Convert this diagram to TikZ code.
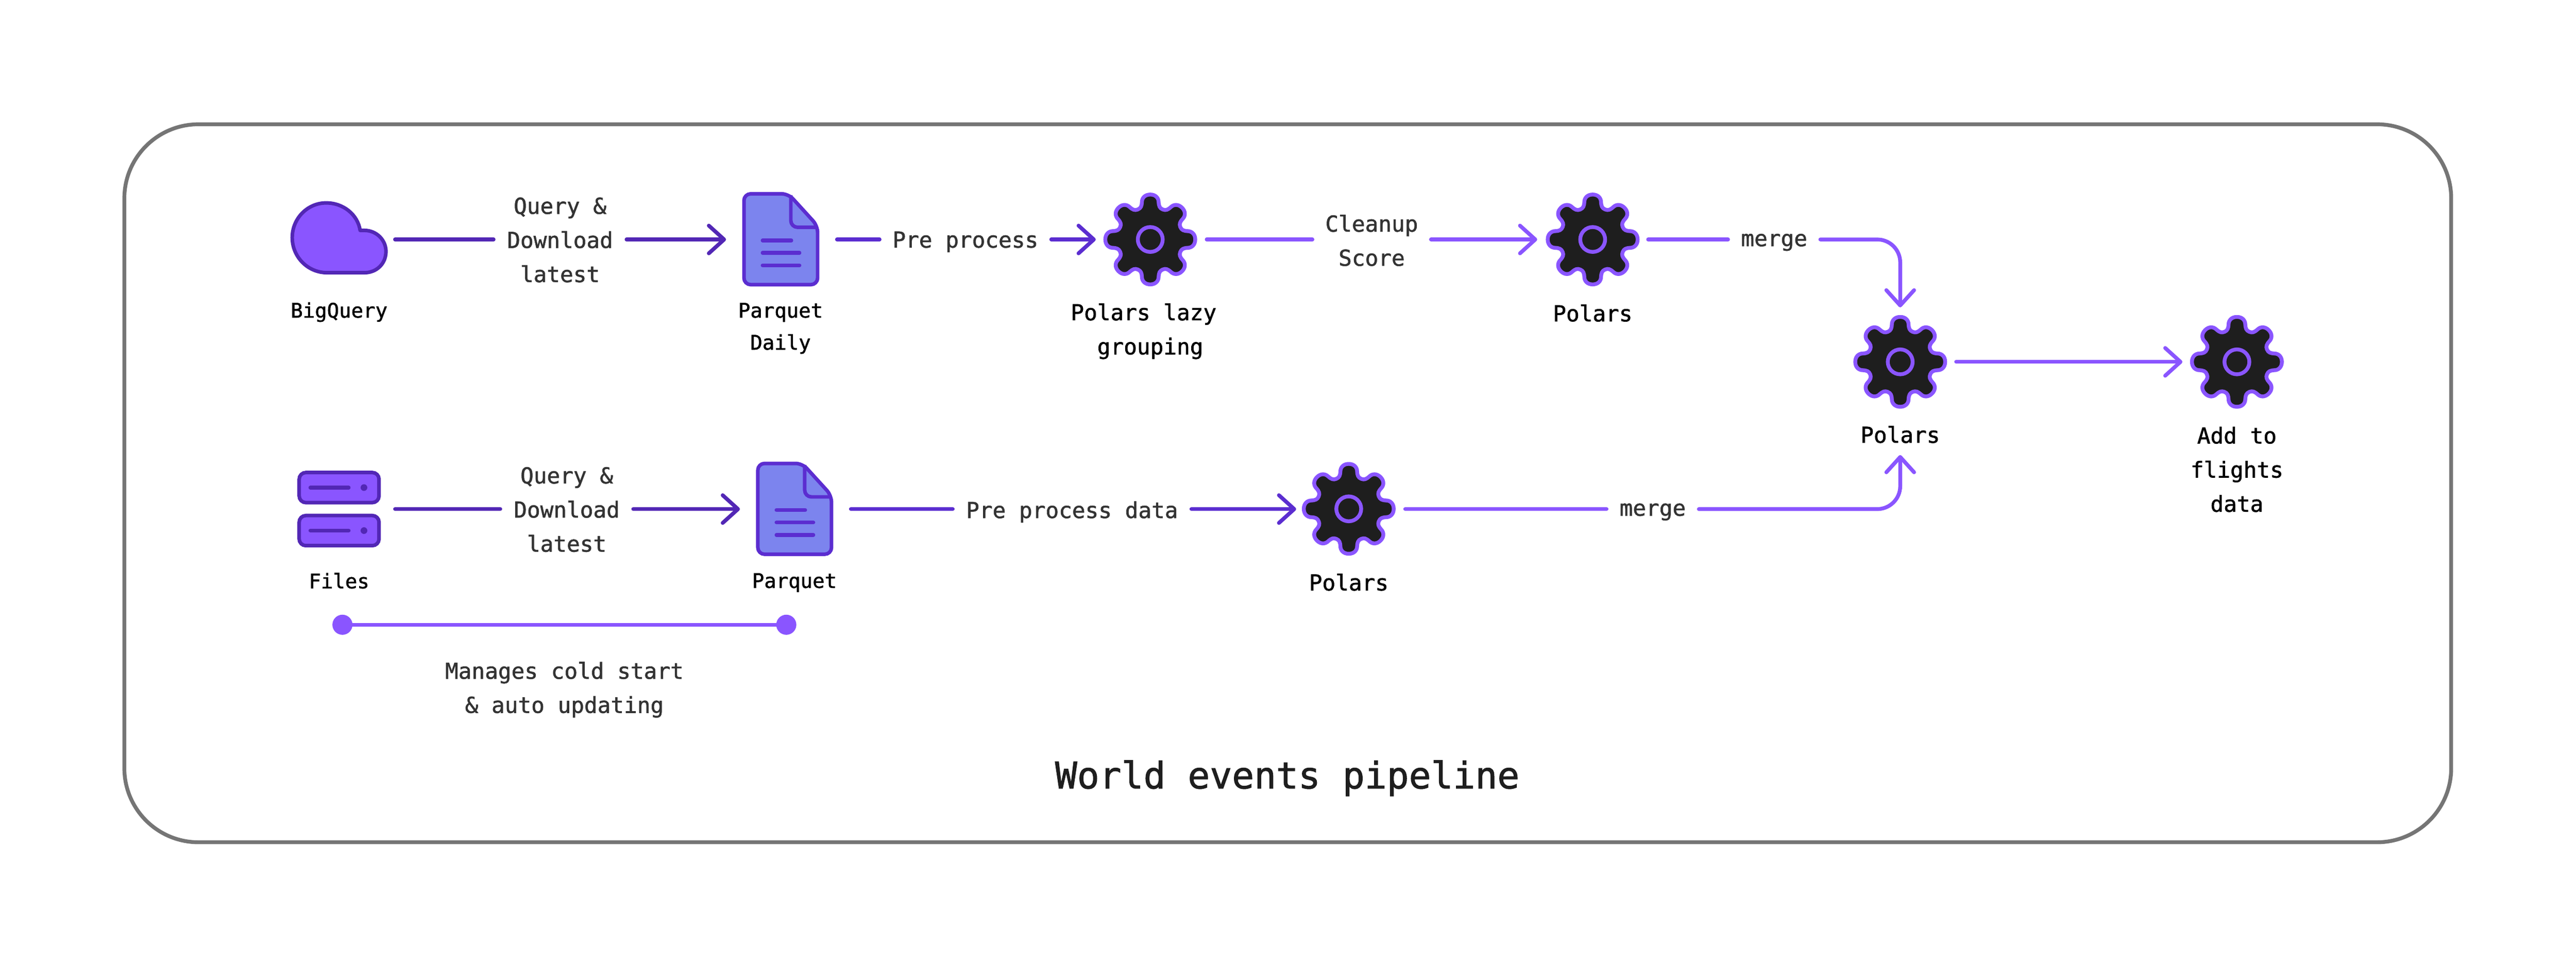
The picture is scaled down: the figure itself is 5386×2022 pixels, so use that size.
\documentclass[tikz,border=0pt]{standalone}
\usepackage{fontspec}
\setmainfont{DejaVu Sans Mono}[FakeBold=1.4]
\usetikzlibrary{arrows.meta}
\definecolor{purp}{HTML}{8A55FF}
\definecolor{deep}{HTML}{5227B5}
\definecolor{mid}{HTML}{5B2DD0}
\definecolor{filefill}{HTML}{7C84EE}
\definecolor{gearfill}{HTML}{1E1E1E}
\definecolor{framec}{HTML}{757575}
\definecolor{edgetext}{HTML}{333333}
\tikzset{
  flow/.style={line width=4pt,line cap=round,shorten <=2pt,shorten >=2pt},
  tipped/.style={shorten >=0pt,-{Straight Barb[round,length=16pt,width=29pt]}},
  hit/.style={inner sep=0pt,outer sep=0pt,minimum width=#1*0.5pt,minimum height=20pt},
  edgelabel/.style={inner sep=0pt,outer sep=0pt,minimum width=#1*0.5pt,align=center,text=edgetext,
    font=\fontsize{23}{35.7}\selectfont},
  biglabel/.style={inner sep=0pt,outer sep=0pt,align=center,text=black,
    font=\fontsize{23}{35.7}\selectfont},
  smalllabel/.style={inner sep=0pt,outer sep=0pt,align=center,text=black,
    font=\fontsize{21}{33.5}\selectfont},
  dot/.style={circle,fill=purp,inner sep=0pt,outer sep=0pt,minimum size=21pt},
  gearicon/.pic={
    \draw[fill=gearfill,draw=purp,line width=4pt,line join=round] (62.8,-26)
      \foreach \a in {0,-45,...,-315}{
        .. controls ([rotate=\a]65.5,-19.5) and ([rotate=\a]70,-18) .. ([rotate=\a]78,-17.5)
        .. controls ([rotate=\a]87,-17.5) and ([rotate=\a]94,-11) .. ([rotate=\a]94,0)
        .. controls ([rotate=\a]94,11) and ([rotate=\a]87,17.5) .. ([rotate=\a]78,17.5)
        .. controls ([rotate=\a]70,18) and ([rotate=\a]65.5,19.5) .. ([rotate=\a]62.8,26)
      } -- cycle;
    \draw[draw=purp,line width=4pt] (0,0) circle[radius=13pt];
  },
  fileicon/.pic={
    \draw[fill=filefill,draw=mid,line width=3.75pt,line join=round,rounded corners=7pt]
      (-77,-95) -- (16,-95) -- (77,-28) -- (77,95) -- (-77,95) -- cycle;
    \draw[draw=mid,line width=3.75pt,line join=round,rounded corners=7pt]
      (21,-92) -- (21,-25) -- (77,-25);
    \draw[draw=mid,line width=4pt,line cap=round] (-38,2.5) -- (22,2.5);
    \draw[draw=mid,line width=4pt,line cap=round] (-38,28.5) -- (39,28.5);
    \draw[draw=mid,line width=4pt,line cap=round] (-38,54.5) -- (39,54.5);
  },
  serverbox/.pic={
    \draw[fill=purp,draw=deep,line width=3.75pt,rounded corners=7pt] (-83.5,-31.5) rectangle (83.5,31.5);
    \draw[draw=deep,line width=4pt,line cap=round] (-60,0) -- (20,0);
    \fill[deep] (52,0) circle[radius=3.5pt];
  }
}
\begin{document}
\begin{tikzpicture}[x=0.5pt,y=-0.5pt]
\useasboundingbox (0,0) rectangle (5386,2022);
\fill[white] (0,0) rectangle (5386,2022);
\draw[framec,line width=4pt,rounded corners=77.5pt] (260,260) rectangle (5125,1762);

% icon anchors (box spans the connector ends)
\node[hit=215] (bq) at (714.5,501) {};
\node[hit=228] (pq1) at (1632,501) {};
\node[hit=228] (g1) at (2405,501) {};
\node[hit=228] (g2) at (3328,501) {};
\node[hit=226,minimum height=114pt] (g3) at (3973,757) {};
\node[hit=228] (g4) at (4677,757) {};
\node[hit=200] (fs) at (722,1065) {};
\node[hit=228] (pq2) at (1661,1065) {};
\node[hit=224] (g5) at (2822,1065) {};
\coordinate (g3s) at (3973,952);

% cloud
\draw[fill=purp,draw=deep,line width=3.75pt,line join=round]
  (611,497) .. controls (611,457) and (643,424.5) .. (682,424.5)
  .. controls (718,424.5) and (748,449) .. (753,482) -- (762,482)
  .. controls (787,482) and (807,502) .. (807,526)
  .. controls (807,552) and (787,570.5) .. (762,570.5) -- (684,570.5)
  .. controls (643,570.5) and (611,537) .. (611,497) -- cycle;
\pic at (709,1020) {serverbox};
\pic at (709,1110) {serverbox};
\pic at (1632.5,500.5) {fileicon};
\pic at (1661.5,1064.5) {fileicon};
\pic at (2405,501) {gearicon};
\pic at (3330,501) {gearicon};
\pic at (3973,757) {gearicon};
\pic at (4677,757) {gearicon};
\pic at (2820,1064.5) {gearicon};

% edge labels
\node[edgelabel=270] (q1) at (1171,502) {Query \&\\Download\\latest};
\node[edgelabel=351] (p1) at (2018.5,506) {Pre process};
\node[edgelabel=240] (cl) at (2868,503) {Cleanup\\Score};
\node[edgelabel=185] (m1) at (3709.5,507) {merge};
\node[edgelabel=270] (q2) at (1185,1066) {Query \&\\Download\\latest};
\node[edgelabel=491] (pp) at (2241.5,1071) {Pre process data};
\node[edgelabel=185] (m2) at (3455.5,1071) {merge};

% node labels
\node[smalllabel] (lbq) at (709,653) {BigQuery};
\node[smalllabel] (lpq1) at (1632,687) {Parquet\\Daily};
\node[biglabel] (lg1) at (2405,693) {Polars lazy\phantom{x}\\grouping};
\node[biglabel] (lg2) at (3330,655) {Polars};
\node[biglabel] (lg3) at (3973,909) {Polars};
\node[biglabel] (lg4) at (4677,982) {Add to\\flights\\data};
\node[smalllabel] (lfs) at (709,1215) {Files};
\node[smalllabel] (lpq2) at (1661,1219) {Parquet};
\node[biglabel] (lg5) at (2820,1218) {Polars};
\node[edgelabel=700] (lcold) at (1180,1443) {Manages cold start\\\& auto updating};
\node[text=gearfill,inner sep=0pt,font=\fontsize{38.4}{46}\selectfont] (title) at (2691.5,1628) {World events pipeline};

% connectors
\draw[flow,deep] (bq.east) -- (bq.east -| q1.west);
\draw[flow,deep,tipped] (bq.east -| q1.east) -- (pq1.west);
\draw[flow,mid] (pq1.east) -- (pq1.east -| p1.west);
\draw[flow,mid,tipped] (pq1.east -| p1.east) -- (g1.west);
\draw[flow,purp] (g1.east) -- (g1.east -| cl.west);
\draw[flow,purp,tipped] (g1.east -| cl.east) -- (g2.west);
\draw[flow,purp] (g2.east) -- (g2.east -| m1.west);
\draw[flow,purp,tipped,rounded corners=24pt] (g2.east -| m1.east) -| (g3.north);
\draw[flow,purp,tipped] (g3.east) -- (g4.west);
\draw[flow,deep] (fs.east) -- (fs.east -| q2.west);
\draw[flow,deep,tipped] (fs.east -| q2.east) -- (pq2.west);
\draw[flow,mid] (pq2.east) -- (pq2.east -| pp.west);
\draw[flow,mid,tipped] (pq2.east -| pp.east) -- (g5.west);
\draw[flow,purp] (g5.east) -- (g5.east -| m2.west);
\draw[flow,purp,tipped,rounded corners=24pt] (g5.east -| m2.east) -| (g3s);
\node[dot] (d1) at (716,1307) {};
\node[dot] (d2) at (1644,1307) {};
\draw[flow,purp,line cap=butt,shorten <=0pt,shorten >=0pt] (d1) -- (d2);
\end{tikzpicture}
\end{document}
